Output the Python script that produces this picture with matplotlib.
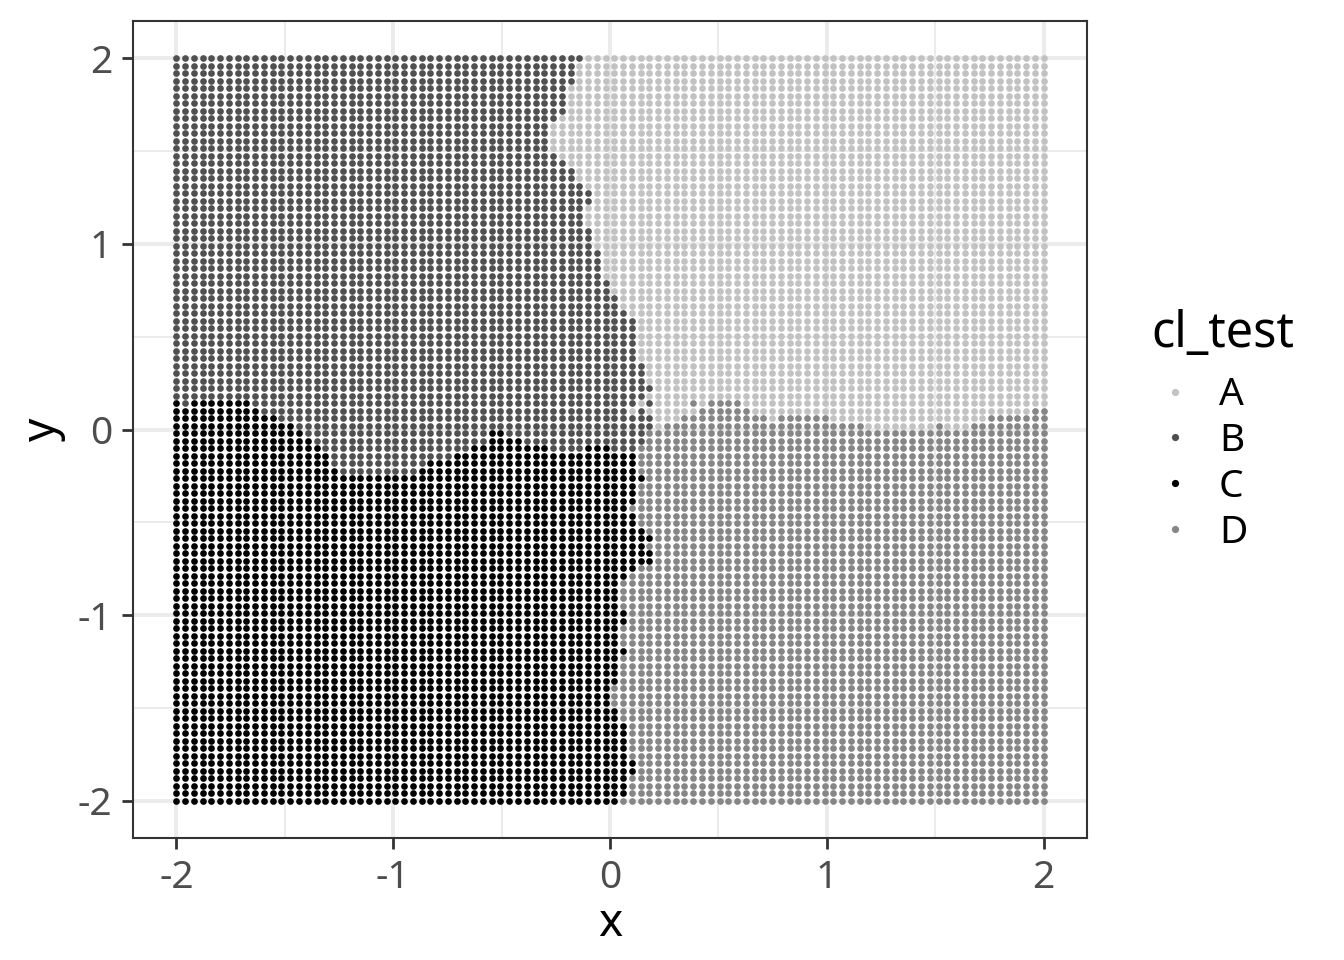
import numpy as np
import matplotlib
matplotlib.use("Agg")
import matplotlib.pyplot as plt
from matplotlib.lines import Line2D

plt.rcParams['font.family'] = ['Noto Sans', 'DejaVu Sans']
plt.rcParams['axes.unicode_minus'] = False

classes = ["A", "B", "C", "D"]
class_colors = {"A": "#C2C2C2", "B": "#505050", "C": "#000000", "D": "#868686"}
tick_values = [-2, -1, 0, 1, 2]
minor_values = [-1.5, -0.5, 0.5, 1.5]
x_grid = np.linspace(-2, 2, 100)
y_grid = np.linspace(2, -2, 100)

# Last column of the left-hand side (B / C) on each row, from the top row down
left_edge = ([46] + [45]*3 + [44]*4 + [43] + [42]*4 + [43, 44] + [45]*2 + [46] + [47]*2 + [46]*3
             + [47]*3 + [48]*4 + [49]*2 + [50]*2 + [51] + [52]*6 + [53]*3 + [54, 53, 54, 53, 54, 54, 53, 53, 52]
             + [52]*3 + [53] + [52]*3 + [51] + [52]*2 + [53, 54, 53, 54, 54, 52, 51] + [50]*4 + [51]*2
             + [50]*3 + [51] + [50]*4 + [49]*3 + [50]*2 + [51]*5 + [52]*2 + [51]*3 + [50])

# First row of C in each left-hand column (columns 0..54)
c_top = ([46, 47] + [46]*7 + [47] + [48]*2 + [49]*2 + [50, 51, 52, 53, 55] + [56]*9 + [55] + [54]*3
         + [53]*2 + [52]*2 + [50]*2 + [51]*2 + [52]*3 + [53]*4 + [52]*3 + [53]*3 + [56, 64])

# First row of D in each right-hand column (columns 54..99)
d_top = ([50]*2 + [49]*2 + [48, 46, 47] + [46]*4 + [47] + [48]*2 + [49] + [48]*6 + [49]*4 + [50]*8
         + [49] + [50]*3 + [49]*2 + [48]*5 + [47]*2)

# Single points that break the pattern: (row, column, class)
stray_points = [(46, 53, "A"), (47, 52, "A"), (47, 59, "A")]

labels = np.empty((100, 100), dtype="<U1")
for j in range(100):
    for i in range(100):
        if i <= left_edge[j]:
            labels[j, i] = "C" if j >= c_top[i] else "B"
        else:
            top = d_top[i - 54] if i >= 54 else 50
            labels[j, i] = "D" if j >= top else "A"
for j, i, c in stray_points:
    labels[j, i] = c

X, Y = np.meshgrid(x_grid, y_grid)

fig = plt.figure(figsize=(6.72, 4.8), dpi=200)
ax = fig.add_axes([133/1344, 1-838/960, (1087-133)/1344, (838-21)/960])
ax.set_xlim(-2.2, 2.2)
ax.set_ylim(-2.2, 2.2)
ax.set_axisbelow(True)

ax.set_xticks(tick_values)
ax.set_yticks(tick_values)
ax.set_xticks(minor_values, minor=True)
ax.set_yticks(minor_values, minor=True)
ax.grid(True, which="major", color="#EBEBEB", lw=1.4)
ax.grid(True, which="minor", color="#EBEBEB", lw=0.7)
ax.tick_params(which="minor", length=0)
ax.tick_params(which="major", length=4, width=1.0, color="#333333",
               labelcolor="#4D4D4D", labelsize=14, pad=3.5)
for s in ax.spines.values():
    s.set_color("#333333")
    s.set_linewidth(0.75)

for c in classes:
    m = labels == c
    ax.scatter(X[m], Y[m], s=5.8, color=class_colors[c], linewidths=0, zorder=3)

ax.set_xlabel("x", fontsize=16.5, labelpad=1.5)
ax.set_ylabel("y", fontsize=16.5, labelpad=4)

handles = [Line2D([], [], linestyle="none", marker="o", markersize=2.6,
                  markeredgewidth=0, color=class_colors[c]) for c in classes]
leg = fig.legend(handles, classes, title="cl_test", frameon=False, fontsize=14,
                 title_fontsize=17.5, loc="upper left",
                 bbox_to_anchor=(1151/1344, 1-309/960), borderaxespad=0, borderpad=0,
                 handletextpad=0.5, labelspacing=0.2, handlelength=1.25, alignment="left")
leg._legend_box.sep = 6.2

fig.savefig("out.png", dpi=200)
